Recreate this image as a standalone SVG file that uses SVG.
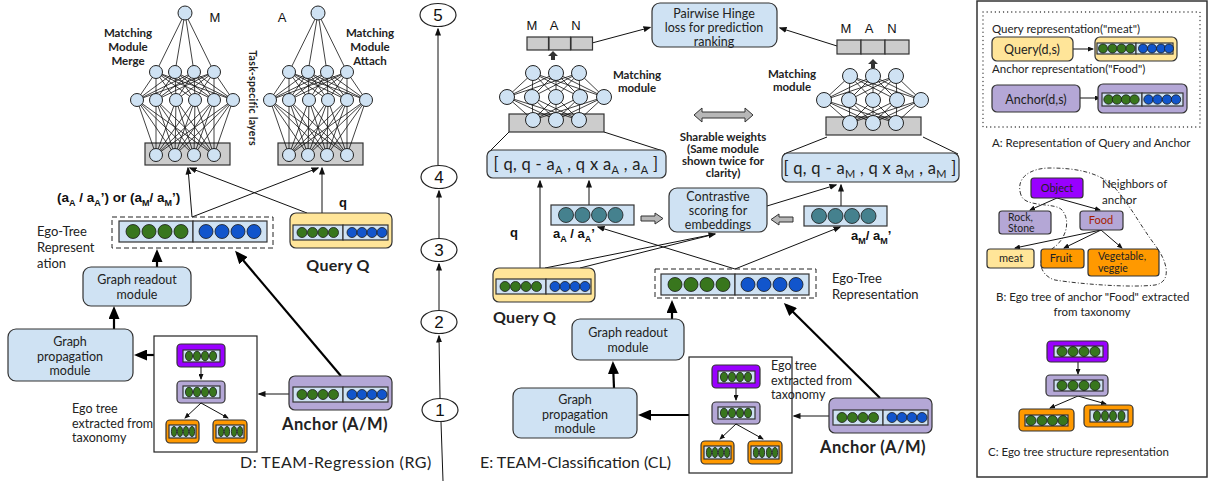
<svg xmlns="http://www.w3.org/2000/svg" xmlns:xlink="http://www.w3.org/1999/xlink" width="1210" height="481" viewBox="0 0 1210 481">
<style>
.lb{fill:#cfe2f3;stroke:#333;stroke-width:1.2}
.gr{fill:#cccccc;stroke:#333;stroke-width:1.2}
.nd{fill:#cfe2f3;stroke:#222;stroke-width:1}
.g{fill:#38761d;stroke:#1a1a1a;stroke-width:0.8}
.b{fill:#1155cc;stroke:#1a1a1a;stroke-width:0.8}
.t{fill:#45818e;stroke:#1a1a1a;stroke-width:0.8}
.yl{fill:#ffe599;stroke:#333;stroke-width:1.2}
.lv{fill:#b4a7d6;stroke:#333;stroke-width:1.2}
.pp{fill:#9900ff;stroke:#333;stroke-width:1.2}
.or{fill:#ff9900;stroke:#333;stroke-width:1.2}
.ln{stroke:#111;stroke-width:1;fill:none}
.mesh{stroke:#111;stroke-width:0.8;fill:none}
.thk{stroke:#000;stroke-width:2.2;fill:none}
.tx{font-family:Lato,"Open Sans",sans-serif;fill:#222}
.ar{font-family:"Liberation Sans",Arial,sans-serif;fill:#111}
.bd{font-weight:bold}
.mid{text-anchor:middle}
.blk{fill:#b7b7b7;stroke:#333;stroke-width:1}
</style>
<defs>
<marker id="ah" markerUnits="userSpaceOnUse" markerWidth="8" markerHeight="7" refX="6.5" refY="3.5" orient="auto"><path d="M0 0.5L8 3.5L0 6.5z" fill="#111"/></marker>
<marker id="ahs" markerUnits="userSpaceOnUse" markerWidth="6" markerHeight="5" refX="5" refY="2.5" orient="auto"><path d="M0 0L6 2.5L0 5z" fill="#111"/></marker>
<marker id="ahb" markerUnits="userSpaceOnUse" markerWidth="13" markerHeight="11" refX="10" refY="5.5" orient="auto"><path d="M0 0L13 5.5L0 11z" fill="#000"/></marker>
<g id="bignet">
<rect class="gr" x="145" y="143" width="85" height="22"/>
<path class="mesh" d="M185 13L156 72M185 13L175 72M185 13L194 72M185 13L214 72M156 72L137 100M156 72L156 100M156 72L176 100M156 72L195 100M156 72L214 100M156 72L233 100M175 72L137 100M175 72L156 100M175 72L176 100M175 72L195 100M175 72L214 100M175 72L233 100M194 72L137 100M194 72L156 100M194 72L176 100M194 72L195 100M194 72L214 100M194 72L233 100M214 72L137 100M214 72L156 100M214 72L176 100M214 72L195 100M214 72L214 100M214 72L233 100M137 100L156 155M137 100L175 155M137 100L194 155M137 100L214 155M156 100L156 155M156 100L175 155M156 100L194 155M156 100L214 155M176 100L156 155M176 100L175 155M176 100L194 155M176 100L214 155M195 100L156 155M195 100L175 155M195 100L194 155M195 100L214 155M214 100L156 155M214 100L175 155M214 100L194 155M214 100L214 155M233 100L156 155M233 100L175 155M233 100L194 155M233 100L214 155"/>
<circle class="nd" cx="185" cy="13" r="7"/>
<circle class="nd" cx="156" cy="72" r="6.5"/><circle class="nd" cx="175" cy="72" r="6.5"/><circle class="nd" cx="194" cy="72" r="6.5"/><circle class="nd" cx="214" cy="72" r="6.5"/>
<circle class="nd" cx="137" cy="100" r="6.5"/><circle class="nd" cx="156" cy="100" r="6.5"/><circle class="nd" cx="176" cy="100" r="6.5"/><circle class="nd" cx="195" cy="100" r="6.5"/><circle class="nd" cx="214" cy="100" r="6.5"/><circle class="nd" cx="233" cy="100" r="6.5"/>
<circle class="nd" cx="156" cy="155" r="6.5"/><circle class="nd" cx="175" cy="155" r="6.5"/><circle class="nd" cx="194" cy="155" r="6.5"/><circle class="nd" cx="214" cy="155" r="6.5"/>
</g>
<g id="smallnet">
<rect class="gr" x="509" y="114" width="95" height="18"/>
<path class="mesh" d="M533 73L507 97M533 73L532 97M533 73L556 97M533 73L580 97M533 73L604 97M556 73L507 97M556 73L532 97M556 73L556 97M556 73L580 97M556 73L604 97M579 73L507 97M579 73L532 97M579 73L556 97M579 73L580 97M579 73L604 97M507 97L533 120M507 97L556 120M507 97L579 120M532 97L533 120M532 97L556 120M532 97L579 120M556 97L533 120M556 97L556 120M556 97L579 120M580 97L533 120M580 97L556 120M580 97L579 120M604 97L533 120M604 97L556 120M604 97L579 120"/>
<circle class="nd" cx="533" cy="73" r="7.5"/><circle class="nd" cx="556" cy="73" r="7.5"/><circle class="nd" cx="579" cy="73" r="7.5"/>
<circle class="nd" cx="507" cy="97" r="7.5"/><circle class="nd" cx="532" cy="97" r="7.5"/><circle class="nd" cx="556" cy="97" r="7.5"/><circle class="nd" cx="580" cy="97" r="7.5"/><circle class="nd" cx="604" cy="97" r="7.5"/>
<circle class="nd" cx="533" cy="120" r="7.5"/><circle class="nd" cx="556" cy="120" r="7.5"/><circle class="nd" cx="579" cy="120" r="7.5"/>
</g>
<g id="egovec">
<rect class="lb" width="74" height="21"/><rect class="lb" x="74" width="74" height="21"/>
<circle class="g" cx="14" cy="10.5" r="7"/><circle class="g" cx="30" cy="10.5" r="7"/><circle class="g" cx="46" cy="10.5" r="7"/><circle class="g" cx="62" cy="10.5" r="7"/>
<circle class="b" cx="87" cy="10.5" r="7"/><circle class="b" cx="103" cy="10.5" r="7"/><circle class="b" cx="119" cy="10.5" r="7"/><circle class="b" cx="135" cy="10.5" r="7"/>
</g>
<g id="vec8">
<rect class="lb" width="50" height="15"/><rect class="lb" x="50" width="45" height="15"/>
<circle class="g" cx="9" cy="7.5" r="5"/><circle class="g" cx="19.5" cy="7.5" r="5"/><circle class="g" cx="30" cy="7.5" r="5"/><circle class="g" cx="40.5" cy="7.5" r="5"/>
<circle class="b" cx="59" cy="7.5" r="5"/><circle class="b" cx="69" cy="7.5" r="5"/><circle class="b" cx="79" cy="7.5" r="5"/><circle class="b" cx="89" cy="7.5" r="5"/>
</g>
<g id="tealvec">
<rect class="lb" width="83" height="20"/>
<circle class="t" cx="15" cy="10" r="7.5"/><circle class="t" cx="31.5" cy="10" r="7.5"/><circle class="t" cx="48" cy="10" r="7.5"/><circle class="t" cx="64.5" cy="10" r="7.5"/>
</g>
<g id="etree">
<rect x="154" y="336" width="103" height="116" fill="#fff" stroke="#222" stroke-width="1.2"/>
<rect class="pp" x="177" y="344" width="48" height="23" rx="4"/>
<rect class="lb" x="183" y="350" width="37" height="12"/>
<ellipse class="g" cx="189" cy="356" rx="3.6" ry="4.8"/><ellipse class="g" cx="197" cy="356" rx="3.6" ry="4.8"/><ellipse class="g" cx="205" cy="356" rx="3.6" ry="4.8"/><ellipse class="g" cx="213" cy="356" rx="3.6" ry="4.8"/>
<line class="ln" x1="201" y1="367" x2="201" y2="379" marker-end="url(#ahs)"/>
<rect class="lv" x="177" y="381" width="48" height="22" rx="4"/>
<rect class="lb" x="183" y="386" width="37" height="12"/>
<ellipse class="g" cx="189" cy="392" rx="3.6" ry="4.8"/><ellipse class="g" cx="197" cy="392" rx="3.6" ry="4.8"/><ellipse class="g" cx="205" cy="392" rx="3.6" ry="4.8"/><ellipse class="g" cx="213" cy="392" rx="3.6" ry="4.8"/>
<line class="ln" x1="201" y1="403" x2="185" y2="418" marker-end="url(#ahs)"/>
<line class="ln" x1="201" y1="403" x2="228" y2="418" marker-end="url(#ahs)"/>
<rect class="or" x="166" y="420" width="33" height="23" rx="4"/>
<rect class="lb" x="169" y="425" width="27" height="13"/>
<ellipse class="g" cx="174" cy="431.5" rx="2.6" ry="5"/><ellipse class="g" cx="180" cy="431.5" rx="2.6" ry="5"/><ellipse class="g" cx="186" cy="431.5" rx="2.6" ry="5"/><ellipse class="g" cx="192" cy="431.5" rx="2.6" ry="5"/>
<rect class="or" x="213" y="420" width="34" height="23" rx="4"/>
<rect class="lb" x="216" y="425" width="28" height="13"/>
<ellipse class="g" cx="221" cy="431.5" rx="2.6" ry="5"/><ellipse class="g" cx="227" cy="431.5" rx="2.6" ry="5"/><ellipse class="g" cx="234" cy="431.5" rx="2.6" ry="5"/><ellipse class="g" cx="240" cy="431.5" rx="2.6" ry="5"/>
</g>
</defs>
<rect width="1210" height="481" fill="#fff"/>

<g id="connectors">
<path class="ln" d="M192 217L188 168" marker-end="url(#ah)"/>
<path class="ln" d="M192 217L318 168" marker-end="url(#ah)"/>
<path class="ln" d="M307 213L190 168" marker-end="url(#ah)"/>
<path class="ln" d="M322 213L322 168" marker-end="url(#ah)"/>
<path class="thk" d="M157 267L157 252" marker-end="url(#ahb)"/>
<path class="thk" d="M341 376L237 253" marker-end="url(#ahb)"/>
<path class="thk" d="M114 329L114 309" marker-end="url(#ahb)"/>
<path class="thk" d="M154 355L137 355" marker-end="url(#ahb)"/>
<path class="ln" d="M289 394L259 394" marker-end="url(#ah)"/>
<path class="ln" d="M440 398L439 336" marker-end="url(#ah)"/>
<path class="ln" d="M439 310L439 264" marker-end="url(#ah)"/>
<path class="ln" d="M439 238L439 191" marker-end="url(#ah)"/>
<path class="ln" d="M438 165L438 29" marker-end="url(#ah)"/>
<path class="ln" d="M443 481L441 422"/>
<path class="ln" d="M592 43L650 27.5" marker-end="url(#ah)"/>
<path class="ln" d="M837 46L780 28" marker-end="url(#ah)"/>
<path class="ln" d="M509 132L490 151M604 132L663 151M827 137L784 154M923 137L958 154"/>
<path class="ln" d="M540 268L540 181" marker-end="url(#ah)"/>
<path class="ln" d="M589 205L589 181" marker-end="url(#ah)"/>
<path class="ln" d="M841 207L841 185" marker-end="url(#ah)"/>
<path class="ln" d="M767 206L836 185" marker-end="url(#ah)"/>
<path class="ln" d="M545 268L715 234" marker-end="url(#ah)"/>
<path class="ln" d="M580 268L715 234"/>
<path class="ln" d="M735 269L598 227" marker-end="url(#ah)"/>
<path class="ln" d="M735 269L840 227" marker-end="url(#ah)"/>
<path class="thk" d="M672 319L672 303" marker-end="url(#ahb)"/>
<path class="thk" d="M880 398L786 305" marker-end="url(#ahb)"/>
<path class="thk" d="M614 388L613 364" marker-end="url(#ahb)"/>
<path class="thk" d="M689 415L641 415" marker-end="url(#ahb)"/>
<path class="ln" d="M829 416L794 416" marker-end="url(#ah)"/>
<path class="ln" d="M1073 49L1093 49" marker-end="url(#ahs)"/>
<path class="ln" d="M1080 98L1100 98" marker-end="url(#ahs)"/>
<path class="ln" d="M1057 198L1030 210" marker-end="url(#ahs)"/>
<path class="ln" d="M1057 198L1100 210" marker-end="url(#ahs)"/>
<path class="ln" d="M1101 230L1015 248" marker-end="url(#ahs)"/>
<path class="ln" d="M1101 230L1064 248" marker-end="url(#ahs)"/>
<path class="ln" d="M1101 230L1122 248" marker-end="url(#ahs)"/>
<path class="ln" d="M1078 362L1078 374" marker-end="url(#ahs)"/>
<path class="ln" d="M1078 396L1050 408" marker-end="url(#ahs)"/>
<path class="ln" d="M1078 396L1106 404" marker-end="url(#ahs)"/>
</g>

<g id="matching-merge">
<use xlink:href="#bignet"/>
<text class="ar" x="215" y="22" font-size="13" text-anchor="middle">M</text>
<text class="tx bd mid" font-size="11.5" x="128" y="37">Matching</text>
<text class="tx bd mid" font-size="11.5" x="128" y="51">Module</text>
<text class="tx bd mid" font-size="11.5" x="128" y="65">Merge</text>
</g>
<g id="matching-attach">
<use xlink:href="#bignet" transform="translate(133,0)"/>
<text class="ar" x="282" y="22" font-size="13" text-anchor="middle">A</text>
<text class="tx bd mid" font-size="11.5" x="370" y="37">Matching</text>
<text class="tx bd mid" font-size="11.5" x="370" y="51">Module</text>
<text class="tx bd mid" font-size="11.5" x="370" y="65">Attach</text>
</g>
<text class="tx bd mid" font-size="10.5" transform="translate(252,98) rotate(90)" x="0" y="3.5" letter-spacing="0.3">Task-specific  layers</text>
<text class="ar bd" x="57" y="202" font-size="13.5">(a<tspan dy="4" font-size="9">A</tspan><tspan dy="-4"> / a</tspan><tspan dy="4" font-size="9">A</tspan><tspan dy="-4">’) or (a</tspan><tspan dy="4" font-size="9">M</tspan><tspan dy="-4">/ a</tspan><tspan dy="4" font-size="9">M</tspan><tspan dy="-4">’)</tspan></text>
<text class="ar bd" x="339" y="207" font-size="13">q</text>
<g id="d-ego-rep">
<rect x="112" y="217" width="161" height="31" fill="none" stroke="#222" stroke-width="1" stroke-dasharray="5 3"/>
<use xlink:href="#egovec" x="119" y="221"/>
<text class="tx" font-size="13" x="37" y="236">Ego-Tree</text>
<text class="tx" font-size="13" x="37" y="252">Represent</text>
<text class="tx" font-size="13" x="37" y="268">ation</text>
</g>
<g id="d-query">
<rect class="yl" x="290" y="213" width="102" height="35" rx="6"/>
<use xlink:href="#vec8" x="293" y="225"/>
<text class="tx bd mid" font-size="16" x="338" y="271" letter-spacing="0.3">Query Q</text>
</g>
<g id="d-readout">
<rect class="lb" x="83" y="267" width="108" height="39" rx="8"/>
<text class="tx mid" font-size="12.5" x="137" y="284">Graph readout</text>
<text class="tx mid" font-size="12.5" x="137" y="299">module</text>
</g>
<g id="d-propagation">
<rect class="lb" x="8" y="329" width="125" height="52" rx="8"/>
<text class="tx mid" font-size="12.5" x="70" y="346">Graph</text>
<text class="tx mid" font-size="12.5" x="70" y="361">propagation</text>
<text class="tx mid" font-size="12.5" x="70" y="375">module</text>
</g>
<g id="d-egotree">
<use xlink:href="#etree"/>
<text class="tx" font-size="12.5" x="72" y="413">Ego tree</text>
<text class="tx" font-size="12.5" x="72" y="428">extracted from</text>
<text class="tx" font-size="12.5" x="72" y="442">taxonomy</text>
</g>
<g id="d-anchor">
<rect class="lv" x="289" y="376" width="103" height="34" rx="6"/>
<use xlink:href="#vec8" x="293" y="387"/>
<text class="tx bd mid" font-size="16.5" x="335" y="430" letter-spacing="0.4">Anchor (A/M)</text>
</g>
<text class="tx" font-size="16" x="240" y="468" letter-spacing="0.5">D: TEAM-Regression (RG)</text>

<g id="step5"><ellipse cx="438" cy="15" rx="18" ry="11.5" fill="#fff" stroke="#222" stroke-width="1.2"/><text class="ar mid" font-size="17" x="438" y="21">5</text></g>
<g id="step4"><ellipse cx="439" cy="177" rx="18" ry="11.5" fill="#fff" stroke="#222" stroke-width="1.2"/><text class="ar mid" font-size="17" x="439" y="183">4</text></g>
<g id="step3"><ellipse cx="439" cy="250" rx="18" ry="11.5" fill="#fff" stroke="#222" stroke-width="1.2"/><text class="ar mid" font-size="17" x="439" y="256">3</text></g>
<g id="step2"><ellipse cx="439" cy="322" rx="18" ry="11.5" fill="#fff" stroke="#222" stroke-width="1.2"/><text class="ar mid" font-size="17" x="439" y="328">2</text></g>
<g id="step1"><ellipse cx="440" cy="410" rx="18" ry="11.5" fill="#fff" stroke="#222" stroke-width="1.2"/><text class="ar mid" font-size="17" x="440" y="416">1</text></g>

<g id="e-man-left">
<rect class="gr" x="527" y="37" width="21.5" height="13"/><rect class="gr" x="549" y="37" width="21.5" height="13"/><rect class="gr" x="571" y="37" width="21.5" height="13"/>
<text class="ar mid" font-size="13" x="532" y="30">M</text><text class="ar mid" font-size="13" x="554" y="30">A</text><text class="ar mid" font-size="13" x="576" y="30">N</text>
<path d="M548 56L553 51L558 56L555 56L555 60L551 60L551 56Z" fill="#333"/>
</g>
<g id="e-net-left">
<use xlink:href="#smallnet"/>
<text class="tx bd mid" font-size="11.5" x="637" y="79">Matching</text>
<text class="tx bd mid" font-size="11.5" x="637" y="92">module</text>
</g>
<g id="e-man-right">
<rect class="gr" x="837" y="40" width="24" height="14"/><rect class="gr" x="861" y="40" width="24" height="14"/><rect class="gr" x="885" y="40" width="24" height="14"/>
<text class="ar mid" font-size="13" x="846" y="33">M</text><text class="ar mid" font-size="13" x="869" y="33">A</text><text class="ar mid" font-size="13" x="892" y="33">N</text>
<path d="M868 64L873 59L878 64L875 64L875 68L871 68L871 64Z" fill="#333"/>
</g>
<g id="e-net-right">
<use xlink:href="#smallnet" transform="translate(317,3)"/>
<text class="tx bd mid" font-size="11.5" x="792" y="78">Matching</text>
<text class="tx bd mid" font-size="11.5" x="792" y="91">module</text>
</g>
<g id="pairwise-hinge">
<rect class="lb" x="652" y="3" width="125" height="44" rx="8"/>
<text class="tx mid" font-size="12.5" x="714" y="18">Pairwise Hinge</text>
<text class="tx mid" font-size="12.5" x="714" y="32">loss for prediction</text>
<text class="tx mid" font-size="12.5" x="714" y="46">ranking</text>
</g>
<g id="sharable-weights">
<path class="blk" d="M694 115L702 108L702 112L745 112L745 108L753 115L745 122L745 118L702 118L702 122Z"/>
<text class="tx bd mid" font-size="11.5" x="723" y="141">Sharable  weights</text>
<text class="tx bd mid" font-size="11.5" x="723" y="153">(Same module</text>
<text class="tx bd mid" font-size="11.5" x="723" y="165">shown twice for</text>
<text class="tx bd mid" font-size="11.5" x="723" y="177">clarity)</text>
</g>
<g id="formula-left">
<rect class="lb" x="487" y="150" width="179" height="28" rx="6"/>
<text class="tx mid" font-size="16.5" x="576" y="170" letter-spacing="0.3">[ q, q - a<tspan font-size="11" dy="4">A</tspan><tspan dy="-4"> , q x a</tspan><tspan font-size="11" dy="4">A</tspan><tspan dy="-4">  , a</tspan><tspan font-size="11" dy="4">A</tspan><tspan dy="-4">  ]</tspan></text>
</g>
<g id="formula-right">
<rect class="lb" x="782" y="153" width="177" height="29" rx="6"/>
<text class="tx mid" font-size="16.5" x="870" y="174" letter-spacing="0.3">[ q, q - a<tspan font-size="11" dy="4">M</tspan><tspan dy="-4"> , q x a</tspan><tspan font-size="11" dy="4">M</tspan><tspan dy="-4">  , a</tspan><tspan font-size="11" dy="4">M</tspan><tspan dy="-4">  ]</tspan></text>
</g>
<g id="aA-vector">
<use xlink:href="#tealvec" x="551" y="205"/>
<text class="ar bd" x="553" y="238" font-size="13">a<tspan dy="4" font-size="9">A</tspan><tspan dy="-4"> / a</tspan><tspan dy="4" font-size="9">A</tspan><tspan dy="-4">’</tspan></text>
</g>
<text class="ar bd" x="510" y="237" font-size="13">q</text>
<g id="contrastive">
<rect class="lb" x="669" y="188" width="98" height="44" rx="8"/>
<text class="tx mid" font-size="12.5" x="718" y="201">Contrastive</text>
<text class="tx mid" font-size="12.5" x="718" y="215">scoring for</text>
<text class="tx mid" font-size="12.5" x="718" y="229">embeddings</text>
<path class="blk" d="M641 216L655 216L655 213L663 218.5L655 224L655 221L641 221Z"/>
<path class="blk" d="M793 217L779 217L779 214L771 219.5L779 225L779 222L793 222Z"/>
</g>
<g id="aM-vector">
<use xlink:href="#tealvec" x="804" y="206"/>
<text class="ar bd" x="851" y="240" font-size="13">a<tspan dy="4" font-size="9">M</tspan><tspan dy="-4">/ a</tspan><tspan dy="4" font-size="9">M</tspan><tspan dy="-4">’</tspan></text>
</g>
<g id="e-query">
<rect class="yl" x="493" y="268" width="102" height="34" rx="6"/>
<use xlink:href="#vec8" x="496" y="279"/>
<text class="tx bd" font-size="16" x="493" y="323" letter-spacing="0.3">Query Q</text>
</g>
<g id="e-ego-rep">
<rect x="655" y="269" width="161" height="29" fill="none" stroke="#222" stroke-width="1" stroke-dasharray="5 3"/>
<use xlink:href="#egovec" x="661" y="274"/>
<text class="tx" font-size="13" x="832" y="283">Ego-Tree</text>
<text class="tx" font-size="13" x="832" y="299">Representation</text>
</g>
<g id="e-readout">
<rect class="lb" x="572" y="319" width="112" height="41" rx="8"/>
<text class="tx mid" font-size="12.5" x="628" y="337">Graph readout</text>
<text class="tx mid" font-size="12.5" x="628" y="352">module</text>
</g>
<g id="e-propagation">
<rect class="lb" x="513" y="388" width="124" height="50" rx="8"/>
<text class="tx mid" font-size="12.5" x="575" y="404">Graph</text>
<text class="tx mid" font-size="12.5" x="575" y="419">propagation</text>
<text class="tx mid" font-size="12.5" x="575" y="433">module</text>
</g>
<g id="e-egotree">
<use xlink:href="#etree" transform="translate(535,21)"/>
<text class="tx" font-size="12.5" x="771" y="370">Ego tree</text>
<text class="tx" font-size="12.5" x="771" y="385">extracted from</text>
<text class="tx" font-size="12.5" x="771" y="399">taxonomy</text>
</g>
<g id="e-anchor">
<rect class="lv" x="829" y="398" width="103" height="35" rx="6"/>
<use xlink:href="#vec8" x="833" y="410"/>
<text class="tx bd mid" font-size="16.5" x="873" y="453" letter-spacing="0.4">Anchor (A/M)</text>
</g>
<text class="tx" font-size="16" x="480" y="468">E: TEAM-Classification (CL)</text>

<rect x="977" y="1" width="230" height="476" fill="none" stroke="#333" stroke-width="1.5"/>
<g id="panel-a">
<rect x="983" y="12" width="217" height="115" fill="none" stroke="#333" stroke-width="1.3" stroke-dasharray="0.1 4" stroke-linecap="round"/>
<text class="tx" font-size="11.5" x="992" y="33">Query representation("meat")</text>
<rect class="yl" x="992" y="37" width="81" height="24" rx="5"/>
<text class="tx mid" font-size="12.5" x="1032" y="54">Query(d,s)</text>
<rect class="yl" x="1095" y="37" width="82" height="24" rx="5"/>
<rect class="lb" x="1097" y="43" width="39" height="11"/><rect class="lb" x="1136" y="43" width="37" height="11"/>
<circle class="g" cx="1103" cy="48.5" r="4.5"/><circle class="g" cx="1112.5" cy="48.5" r="4.5"/><circle class="g" cx="1121.5" cy="48.5" r="4.5"/><circle class="g" cx="1130.5" cy="48.5" r="4.5"/>
<circle class="b" cx="1143" cy="48.5" r="4.5"/><circle class="b" cx="1152" cy="48.5" r="4.5"/><circle class="b" cx="1161" cy="48.5" r="4.5"/><circle class="b" cx="1169" cy="48.5" r="4.5"/>
<text class="tx" font-size="11.5" x="992" y="73">Anchor representation("Food")</text>
<rect class="lv" x="992" y="85" width="88" height="27" rx="5"/>
<text class="tx mid" font-size="12.5" x="1036" y="104">Anchor(d,s)</text>
<rect class="lv" x="1098" y="84" width="89" height="29" rx="5"/>
<rect class="lb" x="1102" y="93" width="40" height="13"/><rect class="lb" x="1142" y="93" width="41" height="13"/>
<circle class="g" cx="1108.5" cy="99.5" r="4.7"/><circle class="g" cx="1117" cy="99.5" r="4.7"/><circle class="g" cx="1126" cy="99.5" r="4.7"/><circle class="g" cx="1134.5" cy="99.5" r="4.7"/>
<circle class="b" cx="1148.5" cy="99.5" r="4.7"/><circle class="b" cx="1157.5" cy="99.5" r="4.7"/><circle class="b" cx="1167" cy="99.5" r="4.7"/><circle class="b" cx="1176" cy="99.5" r="4.7"/>
<text class="tx" font-size="11.5" x="992" y="147">A: Representation of Query and Anchor</text>
</g>
<g id="panel-b">
<path d="M1021 195C1015 178 1030 168 1050 168C1075 168 1100 172 1115 188C1130 205 1140 225 1155 245C1168 262 1172 282 1155 285C1130 288 1080 284 1055 280C1040 276 1035 258 1050 250C1065 242 1072 222 1062 210C1055 202 1025 208 1021 195Z" fill="none" stroke="#333" stroke-width="1" stroke-dasharray="4 2 1 2"/>
<g id="b-object"><rect class="pp" x="1031" y="178" width="52" height="20" rx="3"/><text class="tx mid" font-size="11" x="1057" y="192">Object</text></g>
<text class="tx" font-size="11.5" x="1102" y="188">Neighbors of</text>
<text class="tx" font-size="11.5" x="1102" y="204">anchor</text>
<g id="b-rock"><rect class="lv" x="999" y="211" width="52" height="23" rx="3"/><text class="tx" font-size="10.5" x="1008" y="221">Rock,</text><text class="tx" font-size="10.5" x="1008" y="232">Stone</text></g>
<g id="b-food"><rect class="lv" x="1080" y="211" width="43" height="19" rx="3"/><text class="tx mid" font-size="11" x="1101" y="224" style="fill:#a61c00">Food</text></g>
<g id="b-meat"><rect class="yl" x="987" y="249" width="47" height="19" rx="3"/><text class="tx mid" font-size="11" x="1011" y="262">meat</text></g>
<g id="b-fruit"><rect class="or" x="1041" y="249" width="43" height="19" rx="3"/><text class="tx mid" font-size="11" x="1061" y="262">Fruit</text></g>
<g id="b-veg"><rect class="or" x="1088" y="249" width="71" height="27" rx="3"/><text class="tx" font-size="10.5" x="1098" y="260">Vegetable,</text><text class="tx" font-size="10.5" x="1098" y="272">veggie</text></g>
<text class="tx" font-size="11.5" x="996" y="301">B: Ego tree of anchor "Food" extracted</text>
<text class="tx mid" font-size="11.5" x="1092" y="316">from taxonomy</text>
</g>
<g id="panel-c">
<rect class="pp" x="1047" y="341" width="61" height="21" rx="4"/>
<rect class="lb" x="1054" y="346" width="49" height="11"/>
<circle class="g" cx="1062" cy="351.5" r="5"/><circle class="g" cx="1073" cy="351.5" r="5"/><circle class="g" cx="1084" cy="351.5" r="5"/><circle class="g" cx="1095" cy="351.5" r="5"/>
<rect class="lv" x="1046" y="375" width="62" height="21" rx="4"/>
<rect class="lb" x="1054" y="380" width="49" height="11"/>
<circle class="g" cx="1062" cy="385.5" r="5"/><circle class="g" cx="1073" cy="385.5" r="5"/><circle class="g" cx="1084" cy="385.5" r="5"/><circle class="g" cx="1095" cy="385.5" r="5"/>
<rect class="or" x="1019" y="409" width="55" height="22" rx="4"/>
<rect class="lb" x="1025" y="415" width="43" height="11"/>
<circle class="g" cx="1031" cy="420.5" r="5"/><circle class="g" cx="1042" cy="420.5" r="5"/><circle class="g" cx="1052.5" cy="420.5" r="5"/><circle class="g" cx="1063" cy="420.5" r="5"/>
<rect class="or" x="1084" y="405" width="49" height="22" rx="4"/>
<rect class="lb" x="1090" y="410" width="38" height="12"/>
<ellipse class="g" cx="1097" cy="416" rx="3.5" ry="5.3"/><ellipse class="g" cx="1105" cy="416" rx="3.5" ry="5.3"/><ellipse class="g" cx="1113" cy="416" rx="3.5" ry="5.3"/><ellipse class="g" cx="1121.5" cy="416" rx="3.5" ry="5.3"/>
<text class="tx" font-size="11.5" x="988" y="456">C: Ego tree structure representation</text>
</g>
</svg>
